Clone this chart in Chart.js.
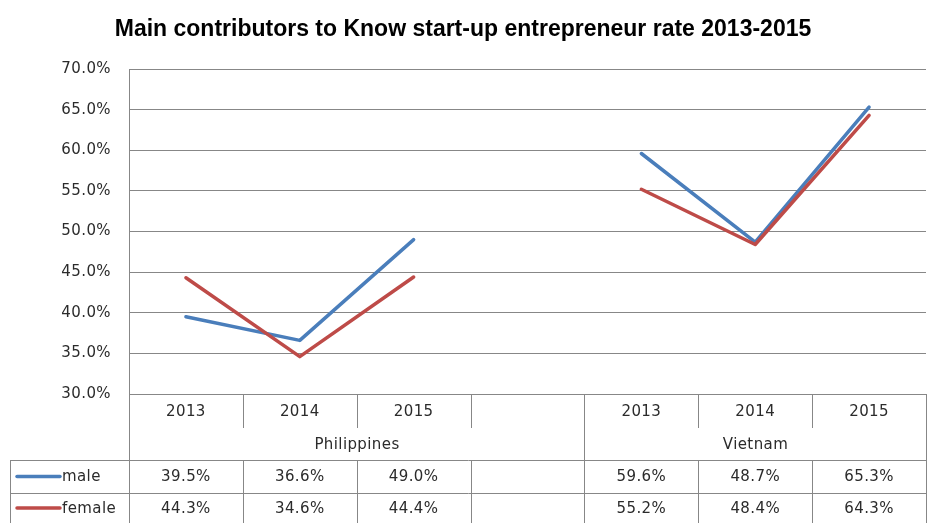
<!DOCTYPE html>
<html>
<head>
<meta charset="utf-8">
<script src="https://cdn.jsdelivr.net/npm/chart.js@4"></script>
<style>
  html, body { margin: 0; padding: 0; background: #fff; overflow: hidden; }
  #wrap { width: 928px; height: 523px; }
</style>
</head>
<body>
<div id="wrap"><canvas id="chart" width="928" height="523"></canvas></div>
<script>
const title = 'Main contributors to Know start-up entrepreneur rate 2013-2015'
const years = ['2013', '2014', '2015', '', '2013', '2014', '2015']
const groups = [{ label: 'Philippines', from: 0, to: 3 }, { label: 'Vietnam', from: 4, to: 6 }]
const male = [39.5, 36.6, 49.0, null, 59.6, 48.7, 65.3]
const female = [44.3, 34.6, 44.4, null, 55.2, 48.4, 64.3]
const yTicks = [30, 35, 40, 45, 50, 55, 60, 65, 70]

const gridColor = '#878787'
const textColor = '#2b2b2b'
const font = '15px "DejaVu Sans"'

// wider text spacing, like the original
const spacingPlugin = {
  id: 'spacing',
  beforeDraw(chart) { chart.ctx.letterSpacing = '0.4px' }
}

// draws the title and the data table under the plot
const tablePlugin = {
  id: 'dataTable',
  afterDraw(chart) {
    const ctx = chart.ctx
    const x = chart.scales.x
    const area = chart.chartArea
    const step = x.getPixelForValue(1) - x.getPixelForValue(0)
    const edge = i => Math.round(x.getPixelForValue(i) - step / 2) + 0.5

    ctx.save()
    ctx.letterSpacing = '0px'
    ctx.font = 'bold 23px "Liberation Sans"'
    ctx.fillStyle = '#000'
    ctx.textAlign = 'center'
    ctx.textBaseline = 'middle'
    ctx.fillText(title, 463, 30)

    const top = area.bottom
    const rowYear = top + 34
    const rowGroup = 460
    const rowMale = 493
    const bottom = 523
    const legLeft = 10.5

    ctx.strokeStyle = gridColor
    ctx.lineWidth = 1
    ctx.beginPath()
    // horizontal lines
    ctx.moveTo(legLeft, rowGroup + 0.5); ctx.lineTo(edge(7), rowGroup + 0.5)
    ctx.moveTo(legLeft, rowMale + 0.5); ctx.lineTo(edge(7), rowMale + 0.5)
    // left borders
    ctx.moveTo(edge(0), top); ctx.lineTo(edge(0), bottom)
    ctx.moveTo(legLeft, rowGroup); ctx.lineTo(legLeft, bottom)
    ctx.moveTo(edge(7), top); ctx.lineTo(edge(7), bottom)
    // inner column lines
    for (let i = 1; i < 7; i++) {
      const isGroupEdge = groups.some(g => g.from === i)
      ctx.moveTo(edge(i), top)
      ctx.lineTo(edge(i), isGroupEdge ? bottom : rowYear)
      if (!isGroupEdge) {
        ctx.moveTo(edge(i), rowGroup); ctx.lineTo(edge(i), bottom)
      }
    }
    ctx.stroke()

    ctx.letterSpacing = '0.4px'
    ctx.font = font
    ctx.fillStyle = textColor
    ctx.textAlign = 'center'
    years.forEach((y, i) => ctx.fillText(y, x.getPixelForValue(i), (top + rowYear) / 2 + 1))
    groups.forEach(g => {
      const cx = (edge(g.from) + edge(g.to + 1)) / 2
      ctx.fillText(g.label, cx, (rowYear + rowGroup) / 2 + 1)
    })

    const rows = [
      { name: 'male', data: male, color: '#4A7EBB', y: (rowGroup + rowMale) / 2 + 1 },
      { name: 'female', data: female, color: '#BE4B48', y: (rowMale + bottom) / 2 + 1 }
    ]
    rows.forEach(r => {
      r.data.forEach((v, i) => {
        if (v !== null) ctx.fillText(v.toFixed(1) + '%', x.getPixelForValue(i), r.y)
      })
      ctx.strokeStyle = r.color
      ctx.lineWidth = 3.5
      ctx.lineCap = 'round'
      ctx.beginPath()
      ctx.moveTo(17, r.y - 1); ctx.lineTo(60, r.y - 1)
      ctx.stroke()
      ctx.textAlign = 'left'
      ctx.fillText(r.name, 62, r.y)
      ctx.textAlign = 'center'
    })
    ctx.restore()
  }
}

new Chart(document.getElementById('chart'), {
  type: 'line',
  data: {
    labels: years,
    datasets: [
      { label: 'male', data: male, borderColor: '#4A7EBB', order: 1 },
      { label: 'female', data: female, borderColor: '#BE4B48', order: 0 }
    ]
  },
  options: {
    responsive: false,
    animation: false,
    spanGaps: false,
    layout: { padding: { top: 69, bottom: 129, left: 0, right: 2 } },
    elements: {
      line: { borderWidth: 3.5, tension: 0, borderCapStyle: 'round', borderJoinStyle: 'round' },
      point: { radius: 0, hoverRadius: 0 }
    },
    plugins: {
      legend: { display: false },
      title: { display: false },
      tooltip: { enabled: false }
    },
    scales: {
      x: { display: false, offset: true },
      y: {
        min: 30,
        max: 70,
        afterFit: s => { s.width = 129 },
        afterBuildTicks: s => { s.ticks = yTicks.map(v => ({ value: v })) },
        border: { display: true, color: gridColor, width: 1 },
        grid: { color: gridColor, lineWidth: 1, drawTicks: false },
        ticks: {
          padding: 18,
          color: textColor,
          font: { family: 'DejaVu Sans', size: 15 },
          callback: v => v.toFixed(1) + '%'
        }
      }
    }
  },
  plugins: [spacingPlugin, tablePlugin]
})
</script>
</body>
</html>
